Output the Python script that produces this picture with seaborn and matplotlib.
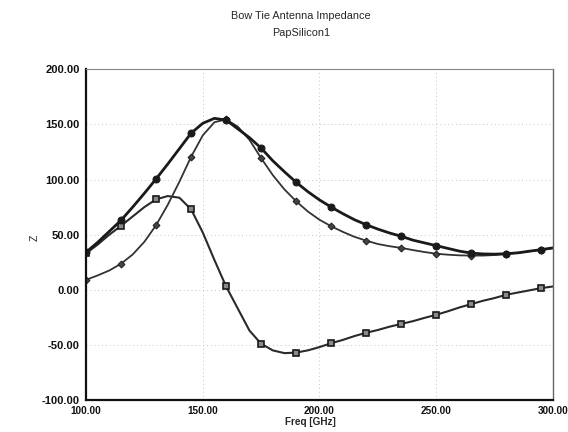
import numpy as np
import pandas as pd
import matplotlib
matplotlib.use('Agg')
import matplotlib.pyplot as plt
import seaborn as sns
from matplotlib.ticker import MultipleLocator, FormatStrFormatter

# --- data (Freq in GHz, Z in ohm) ---
freq = list(range(100, 305, 5))

z_circle = [34, 43, 53, 63, 75, 87.5, 100.5, 114, 128, 142, 151, 155.5, 154,
            146, 138, 128.5, 117, 107, 97.5, 89, 81.5, 75, 69, 63.5, 59, 55,
            51.5, 48.5, 45, 42.5, 40, 37.5, 35, 33.3, 32.5, 32.3, 32.7, 33.5,
            35, 36.4, 38]

z_plus = [9, 13, 17.5, 23.6, 32, 43.5, 58.5, 77, 98, 120.6, 140, 152, 154.5,
          148, 136, 119.4, 104, 91, 80.3, 71, 63.5, 57.6, 52.5, 48, 44.5, 41.5,
          39.5, 38, 36, 34.2, 32.7, 31.8, 31.2, 31, 31, 31.5, 32.5, 33.5, 35,
          36.2, 37.8]

z_square = [33, 41, 50, 58, 66.5, 75, 82, 85, 83.5, 73, 52, 27, 3, -17, -37,
            -49, -55, -57.5, -57, -55, -52, -48.5, -45.5, -42, -39, -36.5,
            -33.5, -31, -28.5, -25.5, -22.7, -19.5, -16, -13, -10, -7.5, -4.5,
            -2.5, -0.5, 1.5, 3]

x_ticks = [100, 150, 200, 250, 300]
y_ticks = [-100, -50, 0, 50, 100, 150, 200]

df = pd.DataFrame({'freq': freq, 'circle': z_circle, 'plus': z_plus, 'square': z_square})

sns.set_style('white')
plt.rcParams['font.family'] = ['Liberation Sans', 'DejaVu Sans']

fig = plt.figure(figsize=(5.68, 4.32), dpi=100)
ax = fig.add_axes([0.1514, 0.0741, 0.8222, 0.7655])

ax.grid(True, color='#c4c4c4', linestyle=(0, (1, 3)), linewidth=0.7)

sns.lineplot(data=df, x='freq', y='square', ax=ax, color='#2a2a2a', linewidth=1.5,
             marker='s', markersize=5, markerfacecolor='#8a8a8a',
             markeredgecolor='#1a1a1a', markeredgewidth=1.2, markevery=3)
sns.lineplot(data=df, x='freq', y='plus', ax=ax, color='#333333', linewidth=1.3,
             marker='D', markersize=3.5, markerfacecolor='#444444',
             markeredgecolor='#222222', markevery=3)
sns.lineplot(data=df, x='freq', y='circle', ax=ax, color='#1a1a1a', linewidth=2.0,
             marker='o', markersize=5, markerfacecolor='#1a1a1a',
             markeredgecolor='#1a1a1a', markevery=3)

ax.set_xlim(100, 300)
ax.set_ylim(-100, 200)
ax.set_xticks(x_ticks)
ax.set_yticks(y_ticks)
ax.xaxis.set_major_formatter(FormatStrFormatter('%.2f'))
ax.yaxis.set_major_formatter(FormatStrFormatter('%.2f'))
ax.yaxis.set_minor_locator(MultipleLocator(10))
ax.xaxis.set_minor_locator(MultipleLocator(10))
ax.tick_params(axis='both', which='major', direction='out', length=3, width=1,
               pad=1.5, color='#222222')
ax.tick_params(axis='x', which='major', labelsize=7.2)
ax.tick_params(axis='y', which='major', labelsize=8)
ax.tick_params(axis='both', which='minor', direction='in', length=2, width=0.6,
               color='#444444')
for lab in ax.get_xticklabels() + ax.get_yticklabels():
    lab.set_fontweight('bold')
    lab.set_color('#111111')

ax.set_xlabel('Freq [GHz]', fontsize=7.2, fontweight='bold')
ax.xaxis.set_label_coords(0.48, -0.052)
ax.set_ylabel('Z', fontsize=7.5)
ax.yaxis.set_label_coords(-0.1, 0.49)

ax.spines['left'].set_color('#111111')
ax.spines['left'].set_linewidth(1.6)
ax.spines['bottom'].set_color('#111111')
ax.spines['bottom'].set_linewidth(1.6)
ax.spines['top'].set_color('#888888')
ax.spines['top'].set_linewidth(0.8)
ax.spines['right'].set_color('#666666')
ax.spines['right'].set_linewidth(1.0)

fig.text(0.53, 0.962, 'Bow Tie Antenna Impedance', ha='center', va='center', fontsize=7.8)
fig.text(0.53, 0.923, 'PapSilicon1', ha='center', va='center', fontsize=7.8)

fig.savefig('out.png', dpi=100)
